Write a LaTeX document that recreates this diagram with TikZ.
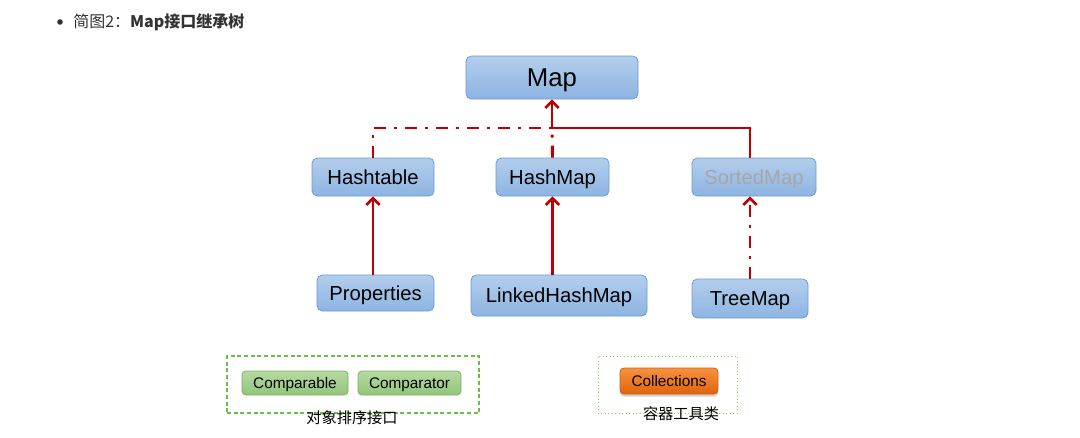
\documentclass[tikz,border=0pt]{standalone}
\usepackage{fontspec}
\setmainfont{Liberation Sans}
\newfontfamily\cjk{Noto Sans CJK SC}
\usetikzlibrary{arrows.meta,shadows}
\definecolor{ared}{HTML}{C00000}
\definecolor{bborder}{HTML}{6A9BD8}
\definecolor{btop}{HTML}{B3CEEC}
\definecolor{bbot}{HTML}{8DB4E2}
\definecolor{gtop}{HTML}{B6DAA2}
\definecolor{gbot}{HTML}{92C47B}
\definecolor{gborder}{HTML}{78B35A}
\definecolor{otop}{HTML}{F8913E}
\definecolor{obot}{HTML}{E0640C}
\definecolor{oborder}{HTML}{D2600F}
\definecolor{gdash}{HTML}{6CBF45}
\definecolor{gdot}{HTML}{8FD24F}
\definecolor{txt}{HTML}{333333}
\tikzset{
  bluebox/.style={draw=bborder, line width=0.6pt, rounded corners=4pt, top color=btop, bottom color=bbot, inner sep=0pt, font=\fontsize{15.2}{18}\selectfont, text height=10.9pt, text depth=0pt},
  greenbox/.style={draw=gborder, line width=0.6pt, rounded corners=3pt, top color=gtop, bottom color=gbot, inner sep=0pt, minimum height=18pt, font=\fontsize{11.5}{13}\selectfont, text height=8.2pt, text depth=0pt},
  orangebox/.style={draw=oborder, line width=0.6pt, rounded corners=3pt, top color=otop, bottom color=obot, inner sep=0pt, font=\fontsize{11.5}{13}\selectfont, text height=8.2pt, text depth=0pt,
    drop shadow={shadow xshift=0pt, shadow yshift=-2pt, opacity=0.35}},
  inh/.style={draw=ared, line width=2.2pt, -{Straight Barb[length=5pt,width=10pt,line width=2pt]}},
  inhline/.style={draw=ared, line width=2.2pt},
  impl/.style={dash pattern=on 9pt off 6pt on 2.25pt off 6pt},
  lbl/.style={font=\cjk\fontsize{11.4}{13}\selectfont, text=black, inner sep=0pt}
}
\begin{document}
\begin{tikzpicture}[x=0.75pt,y=-0.75pt]
\useasboundingbox[fill=white] (0,0) rectangle (1080,437);
% header
\node[circle, fill=txt, inner sep=0pt, minimum size=4.2pt] (bul) at (60,22) {};
\node[anchor=west, inner sep=0pt, text=txt, font=\cjk\fontsize{12}{14}\selectfont] (hdr) at (73,22) {简图2：\textbf{Map接口继承树}};
% nodes
\node[bluebox, minimum width=129pt, minimum height=32.25pt, font=\fontsize{19.3}{22}\selectfont, text height=13.8pt] (map) at (552,77.5) {Map};
\node[bluebox, minimum width=91.5pt, minimum height=28.5pt] (ht) at (373,177) {Hashtable};
\node[bluebox, minimum width=84.75pt, minimum height=28.5pt] (hm) at (552.5,177) {HashMap};
\node[bluebox, minimum width=93pt, minimum height=28.5pt, text=black!35] (sm) at (754,177) {SortedMap};
\node[bluebox, minimum width=87.75pt, minimum height=27pt] (pr) at (375.5,293) {Properties};
\node[bluebox, minimum width=132pt, minimum height=30.75pt] (lhm) at (559,295.5) {LinkedHashMap};
\node[bluebox, minimum width=87pt, minimum height=29.25pt] (tm) at (750,298.5) {TreeMap};
% connectors
\coordinate (j) at (552,128);
\draw[inhline, impl] (ht.north) -- (373,128) -- (j);
\draw[inhline, impl] (hm.north) -- (j);
\draw[inhline] (750,158) -- (750,128) -- (j);
\draw[inh] (j) -- (map.south);
\draw[inh] (pr.north -| ht.north) -- (ht.south);
\draw[inh] (lhm.north -| hm.north) -- (hm.south);
\draw[inh, impl] (tm.north) -- (tm.north |- sm.south);
% bottom groups
\node[draw=gdash, line width=0.8pt, dash pattern=on 3pt off 2pt, minimum width=189pt, minimum height=42.75pt, inner sep=0pt] (g1) at (353,384.5) {};
\node[greenbox, minimum width=79.5pt] (cmp1) at (295,383) {Comparable};
\node[greenbox, minimum width=77.25pt] (cmp2) at (409.5,383) {Comparator};
\node[lbl] (l1) at (352,418) {对象排序接口};
\node[draw=gdot, line width=0.6pt, dotted, minimum width=104.25pt, minimum height=42.75pt, inner sep=0pt] (g2) at (667.5,384.5) {};
\node[orangebox, minimum width=73.5pt, minimum height=19.5pt] (col) at (669,381) {Collections};
\node[lbl] (l2) at (681,414) {容器工具类};
\end{tikzpicture}
\end{document}
